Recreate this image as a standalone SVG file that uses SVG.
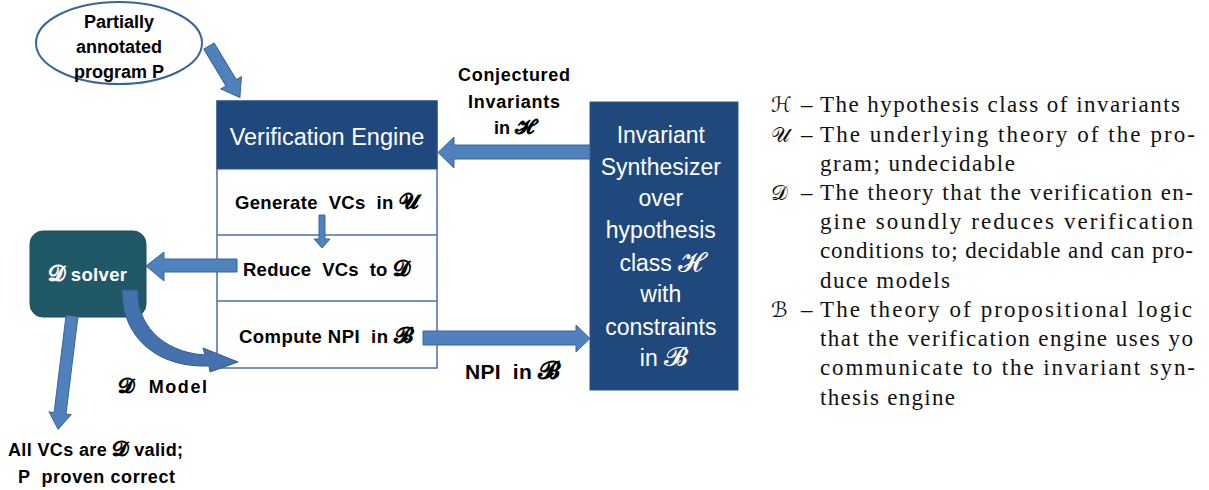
<svg xmlns="http://www.w3.org/2000/svg" width="1209" height="490" viewBox="0 0 1209 490">
<style>
  .bg { fill: #ffffff; }
  .dark { fill: #1F497D; stroke: #2B5488; stroke-width: 1; }
  .row { fill: #ffffff; stroke: #4A6FA0; stroke-width: 1.5; }
  .arrow { fill: #4F81BD; stroke: #3A6598; stroke-width: 1; }
  .curve { fill: #4572AD; stroke: #2F5A8E; stroke-width: 1; }
  .solver { fill: #215868; stroke: #1B4C59; stroke-width: 1; }
  .ell { fill: #ffffff; stroke: #3A6399; stroke-width: 2; }
  .wt { font-family: "Liberation Sans", Arial, sans-serif; fill: #ffffff; text-anchor: middle; }
  .bt { font-family: "Liberation Sans", Arial, sans-serif; fill: #000000; font-weight: bold; text-anchor: middle; }
  .lg { font-family: "Liberation Serif", "DejaVu Serif", serif; font-size: 23px; fill: #111111; }
  .sym { font-family: "DejaVu Serif", "DejaVu Sans", serif; font-size: 21px; fill: #111111; }
  .scr { font-family: "DejaVu Serif", "DejaVu Sans", serif; font-style: normal; font-size: 118%; }
</style>
<rect class="bg" x="0" y="0" width="1209" height="490"/>

<g id="program-node">
  <ellipse class="ell" cx="119" cy="43" rx="83" ry="41"/>
  <text class="bt" font-size="18" x="119" y="28">Partially</text>
  <text class="bt" font-size="18" x="119" y="53">annotated</text>
  <text class="bt" font-size="18" x="119" y="78">program P</text>
</g>

<g id="verification-engine">
  <rect class="row" x="217" y="101" width="220" height="267"/>
  <rect class="dark" x="217" y="101" width="220" height="68"/>
  <line x1="217" y1="235" x2="437" y2="235" stroke="#4A6FA0" stroke-width="1.5"/>
  <line x1="217" y1="301" x2="437" y2="301" stroke="#4A6FA0" stroke-width="1.5"/>
  <text class="wt" font-size="23.5" x="327" y="145">Verification Engine</text>
  <text class="bt" font-size="18.5" x="326.5" y="209" xml:space="preserve" textLength="183" lengthAdjust="spacing">Generate  VCs  in <tspan class="scr">𝓤</tspan></text>
  <text class="bt" font-size="18.5" x="326.5" y="276" xml:space="preserve" textLength="167" lengthAdjust="spacing">Reduce  VCs  to <tspan class="scr">𝓓</tspan></text>
  <text class="bt" font-size="18.5" x="326" y="343" xml:space="preserve" textLength="174" lengthAdjust="spacing">Compute NPI  in <tspan class="scr">𝓑</tspan></text>
</g>

<g id="invariant-synthesizer">
  <rect class="dark" x="590" y="102" width="148" height="288"/>
  <text class="wt" font-size="23">
    <tspan x="664" y="143">Invariant</tspan>
    <tspan x="664" y="175">Synthesizer</tspan>
    <tspan x="664" y="206">over</tspan>
    <tspan x="664" y="238">hypothesis</tspan>
    <tspan x="664" y="271">class <tspan class="scr" font-size="20">𝓗</tspan></tspan>
    <tspan x="664" y="302">with</tspan>
    <tspan x="664" y="335">constraints</tspan>
    <tspan x="664" y="366">in <tspan class="scr" font-size="22">𝓑</tspan></tspan>
  </text>
</g>

<g id="d-solver">
  <rect class="solver" x="30" y="231" width="116" height="86" rx="13"/>
  <text class="wt" font-size="18.5" font-weight="bold" x="87.5" y="281" textLength="79" lengthAdjust="spacing"><tspan class="scr">𝓓</tspan> solver</text>
</g>

<g id="labels">
  <text class="bt" font-size="18" x="514" y="81" textLength="112" lengthAdjust="spacing">Conjectured</text>
  <text class="bt" font-size="18" x="514" y="108" textLength="92" lengthAdjust="spacing">Invariants</text>
  <text class="bt" font-size="18" x="514" y="134">in <tspan class="scr">𝓗</tspan></text>
  <text class="bt" font-size="21" x="512.5" y="379" xml:space="preserve" textLength="95" lengthAdjust="spacing">NPI  in <tspan class="scr">𝓑</tspan></text>
  <text class="bt" font-size="18" x="162.5" y="393" xml:space="preserve" textLength="89" lengthAdjust="spacing"><tspan class="scr">𝓓</tspan>  Model</text>
  <text class="bt" font-size="18" x="95.5" y="456" textLength="175" lengthAdjust="spacing">All VCs are <tspan class="scr">𝓓</tspan> valid;</text>
  <text class="bt" font-size="18" x="96.5" y="483" xml:space="preserve" textLength="157" lengthAdjust="spacing">P  proven correct</text>
</g>

<g id="connectors">
  <path class="arrow" transform="translate(209,46) rotate(59)" d="M0,-6 L43,-6 L43,-12 L60,0 L43,12 L43,6 L0,6 Z"/>
  <path class="arrow" d="M590,145 L454,145 L454,137 L438,152.5 L454,168 L454,159 L590,159 Z"/>
  <path class="arrow" d="M423,331 L576,331 L576,325 L590,338.5 L576,352 L576,345 L423,345 Z"/>
  <path class="arrow" d="M237,259 L164,259 L164,252 L146,266 L164,281 L164,272 L237,272 Z"/>
  <path class="arrow" d="M319,215 L325,215 L325,239 L330,239 L322,248 L314,239 L319,239 Z"/>
  <path class="arrow" transform="translate(72,316) rotate(97)" d="M0,-6 L98,-6 L98,-11 L114,0 L98,11 L98,6 L0,6 Z"/>
  <path class="curve" d="M122,290 L138,290 C136,322 160,352 205,355 L203,348 L238,362 L210,372 L209,366 C160,368 122,340 122,290 Z"/>
</g>

<g id="legend">
  <text class="sym" x="771" y="112">ℋ</text>
  <text class="lg" x="801" y="112">–</text>
  <text class="lg" x="820" y="112" textLength="360" lengthAdjust="spacing">The hypothesis class of invariants</text>

  <text class="sym" x="771" y="141.5">𝒰</text>
  <text class="lg" x="801" y="141.5">–</text>
  <text class="lg" x="820" y="141.5" textLength="375" lengthAdjust="spacing">The underlying theory of the pro-</text>
  <text class="lg" x="820" y="170.5" textLength="195" lengthAdjust="spacing">gram; undecidable</text>

  <text class="sym" x="771" y="200">𝒟</text>
  <text class="lg" x="801" y="200">–</text>
  <text class="lg" x="820" y="200" textLength="373" lengthAdjust="spacing">The theory that the verification en-</text>
  <text class="lg" x="820" y="229" textLength="373" lengthAdjust="spacing">gine soundly reduces verification</text>
  <text class="lg" x="820" y="258" textLength="373" lengthAdjust="spacing">conditions to; decidable and can pro-</text>
  <text class="lg" x="820" y="287.5" textLength="130" lengthAdjust="spacing">duce models</text>

  <text class="sym" x="771" y="317">ℬ</text>
  <text class="lg" x="801" y="317">–</text>
  <text class="lg" x="820" y="317" textLength="372" lengthAdjust="spacing">The theory of propositional logic</text>
  <text class="lg" x="820" y="346" textLength="373" lengthAdjust="spacing">that the verification engine uses yo</text>
  <text class="lg" x="820" y="375" textLength="375" lengthAdjust="spacing">communicate to the invariant syn-</text>
  <text class="lg" x="820" y="404.5" textLength="135" lengthAdjust="spacing">thesis engine</text>
</g>
</svg>
